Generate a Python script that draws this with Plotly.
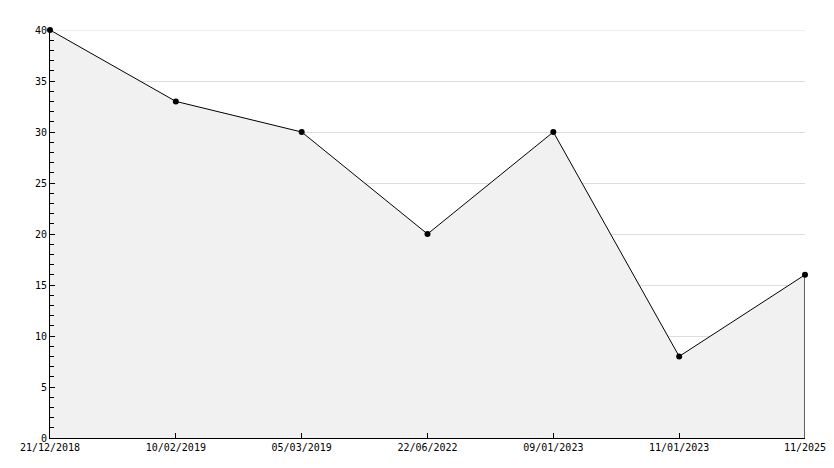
import plotly.graph_objects as go

categories = ["21/12/2018", "10/02/2019", "05/03/2019", "22/06/2022", "09/01/2023", "11/01/2023", "11/2025"]
values = [40, 33, 30, 20, 30, 8, 16]
y_ticks = [0, 5, 10, 15, 20, 25, 30, 35, 40]

fig = go.Figure()
fig.add_trace(go.Scatter(
    x=categories, y=values, mode="lines+markers",
    line=dict(color="black", width=1),
    marker=dict(color="black", size=6, symbol="circle"),
    fill="tozeroy", fillcolor="#f1f1f1",
    hoverinfo="x+y", showlegend=False, cliponaxis=False,
))
# right edge of filled area
fig.add_trace(go.Scatter(
    x=[categories[-1], categories[-1]], y=[values[-1], 0], mode="lines",
    line=dict(color="black", width=1.2), hoverinfo="skip", showlegend=False,
))

# top gridline (at the range edge)
fig.add_shape(type="line", xref="paper", x0=0, x1=1, yref="y", y0=y_ticks[-1], y1=y_ticks[-1],
              line=dict(color="#dddddd", width=1), layer="below")

fig.update_layout(
    width=818, height=452,
    margin=dict(l=42, r=21, t=22, b=22),
    paper_bgcolor="white", plot_bgcolor="white",
    font=dict(family="DejaVu Sans Mono", size=10, color="black"),
    xaxis=dict(
        type="category", range=[0, len(categories) - 1],
        showline=True, linecolor="black", linewidth=1,
        ticks="inside", ticklen=5, tickcolor="black",
        showgrid=False, zeroline=False, automargin=False,
    ),
    yaxis=dict(
        range=[0, 40], tickvals=y_ticks,
        showline=True, linecolor="black", linewidth=1,
        ticks="inside", ticklen=5, tickcolor="black",
        minor=dict(dtick=1, ticks="inside", ticklen=4, tickcolor="black", showgrid=False),
        showgrid=True, gridcolor="#dddddd", gridwidth=1,
        zeroline=False, automargin=False,
    ),
)
fig.write_html("out.html")
